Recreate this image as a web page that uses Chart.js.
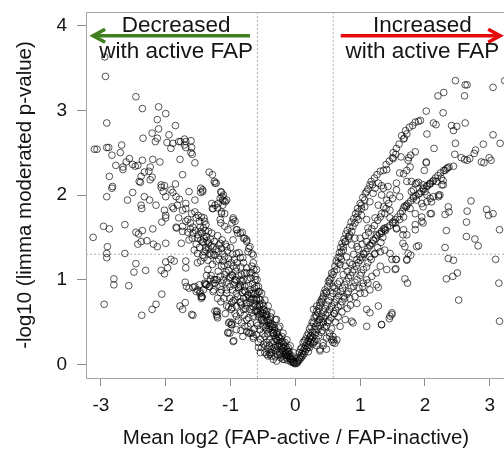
<!DOCTYPE html>
<html><head><meta charset="utf-8">
<script src="https://cdn.jsdelivr.net/npm/chart.js@4/dist/chart.umd.min.js"></script>
<style>
html,body{margin:0;padding:0;background:#fff;overflow:hidden;}
#wrap{width:504px;height:449px;overflow:hidden;position:relative;}
canvas{display:block;}
</style></head><body>
<div id="wrap"><canvas id="c" width="506" height="449"></canvas></div>
<script>
// ---- axis / reference values ----
const xTicks = [-3, -2, -1, 0, 1, 2, 3];
const yTicks = [0, 1, 2, 3, 4];
const foldChangeCutoffs = [-0.585, 0.585];   // log2(1.5)
const pValueCutoff = 1.301;                  // -log10(0.05)
const xLimits = [-3.23, 3.25];
const yLimits = [-0.16, 4.16];
const xTitle = 'Mean log2 (FAP-active / FAP-inactive)';
const yTitle = '-log10 (limma moderated p-value)';

// ---- points [mean log2 ratio, -log10 p] ----
const decreasedScatter = [
[-2.94,3.63],[-2.93,3.40],[-2.46,3.16],[-2.36,3.02],[-2.11,3.04],[-2.00,2.96],[-2.13,2.89],[-2.91,2.85],[-1.85,2.82],[-2.11,2.78],
[-2.21,2.73],[-1.95,2.71],[-2.35,2.67],[-2.13,2.67],[-2.16,2.63],[-1.98,2.62],[-1.89,2.61],[-1.80,2.63],[-1.71,2.66],[-1.69,2.63],
[-1.61,2.64],[-1.77,2.63],[-1.92,2.55],[-1.71,2.59],[-1.69,2.56],[-1.60,2.56],[-1.61,2.50],[-1.59,2.48],[-3.10,2.54],[-3.06,2.54],
[-2.91,2.56],[-2.88,2.56],[-2.68,2.59],[-2.83,2.47],[-2.70,2.50],[-1.78,2.42],[-1.55,2.38],[-2.56,2.43],[-2.61,2.39],[-2.66,2.33],
[-2.66,2.30],[-2.77,2.35],[-2.51,2.36],[-2.43,2.35],[-2.47,2.34],[-2.36,2.41],[-2.20,2.42],[-2.09,2.39],[-2.24,2.33],[-2.26,2.28],
[-2.33,2.27],[-2.87,2.22],[-2.38,2.22],[-2.41,2.16],[-2.39,2.15],[-2.24,2.18],[-2.21,2.21],[-1.74,2.24],[-1.85,2.13],[-2.07,2.12],
[-2.02,2.11],[-1.33,2.27],[-1.28,2.24],[-1.25,2.16],[-1.24,2.14],[-1.46,2.08],[-2.82,2.10],
[-2.83,2.08],[-2.91,1.98],[-2.59,1.94],[-2.51,2.03],[-2.33,1.98],[-2.25,1.94],[-2.38,1.88],[-2.37,1.84],[-2.15,1.88],[-2.07,2.09],
[-2.04,2.04],[-2.00,1.98],[-1.92,2.06],[-1.89,2.03],[-1.84,1.98],[-1.79,1.95],[-1.69,1.90],[-1.64,2.04],[-1.46,2.03],[-1.43,2.06],
[-2.02,1.82],[-2.00,1.76],[-1.90,1.86],[-1.88,1.84],[-1.82,1.88],[-1.74,1.82],[-1.69,1.84],[-1.60,1.78],[-1.55,1.94],[-2.96,1.63],
[-2.87,1.60],[-3.12,1.50],[-2.63,1.65],[-2.46,1.56],[-2.42,1.54],[-2.36,1.58],[-2.20,1.60],[-2.06,1.68],[-2.00,1.73],[-2.43,1.42],
[-2.38,1.45],[-2.29,1.46],[-2.19,1.42],[-2.13,1.39],[-2.00,1.43],[-2.90,1.39],[-2.91,1.31],[-2.91,1.26],[-2.63,1.31],[-1.84,1.62],
[-1.80,1.73],[-1.69,1.69],[-1.74,1.57],[-1.76,1.43],[-1.83,1.61],[-1.74,1.63],[-1.53,1.73],[-1.48,1.69],[-1.41,1.73],[-1.38,1.65],
[-1.46,1.57],[-1.59,1.49],[-1.51,1.49],[-1.41,1.49],[-1.56,1.35],[-1.51,1.31],[-1.43,1.29],[-1.38,1.35],[-1.51,1.20],[-1.69,1.22],
[-2.46,1.19],[-2.49,1.09],[-2.31,1.11],[-2.07,1.11],[-2.02,1.07],[-1.97,1.14],[-2.00,1.21],[-1.92,1.24],[-1.87,1.22],[-2.80,1.01],
[-2.80,0.94],[-2.57,0.93],[-2.95,0.71],[-2.06,0.83],[-2.15,0.71],[-2.21,0.65],[-2.37,0.58],[-1.69,1.14],[-1.70,0.97],[-1.64,0.90],
[-1.58,0.91],[-1.51,0.88],[-1.48,0.94],[-1.44,0.80],[-1.39,0.95],[-1.70,0.73],[-1.74,0.65],[-1.78,0.69],[-1.60,0.59],[-1.58,0.58],
[-1.21,0.63],[-1.20,0.55],[-1.68,0.92],[-1.55,0.92],[-1.47,0.84],[-1.45,0.78],[-1.53,0.86],[-1.47,0.86],[-1.44,0.80]
];
const decreasedArm = [
[-1.22,2.14],[-1.43,2.04],[-1.14,2.03],[-1.11,2.00],[-1.16,1.96],[-1.10,1.93],[-1.12,1.88],[-1.19,1.90],[-1.24,1.88],[-1.27,1.84],
[-1.14,1.80],[-1.09,1.78],[-1.29,1.90],[-1.28,1.84],[-1.20,1.85],[-1.15,2.04],[-1.13,1.98],[-1.12,1.94],[-1.08,1.92],[-1.06,1.94],
[-1.14,1.78],[-1.16,1.71],[-1.45,1.74],[-1.40,1.69],[-1.42,1.61],[-1.34,1.57],[-1.29,1.55],[-1.37,1.51],[-1.43,1.45],[-1.34,1.43],
[-1.27,1.39],[-1.40,1.33],[-1.32,1.31],[-1.24,1.29],[-1.19,1.33],[-1.14,1.37],[-1.16,1.43],[-1.15,1.67],[-1.09,1.63],[-1.04,1.59],
[-0.98,1.67],[-0.96,1.71],[-0.91,1.59],[-0.85,1.55],[-0.80,1.49],[-0.75,1.47],[-0.70,1.39],[-0.73,1.33],[-0.65,1.29],[-0.96,1.47],
[-1.06,1.39],[-1.09,1.27],[-1.11,1.22],[-1.04,1.18],[-0.96,1.16],[-0.91,1.14],[-0.83,1.06],[-0.85,1.00],[-0.93,1.00],[-0.98,1.06],
[-1.01,0.92],[-1.06,0.88],[-1.21,1.00],[-1.27,0.96],[-1.37,0.94],[-1.42,0.88],[-1.45,0.80],[-1.27,0.86],[-1.16,0.92],[-0.78,0.92],
[-0.70,0.88],[-0.73,0.82],[-0.65,0.84],[-0.60,0.78],[-0.55,0.71],[-0.50,0.65],[-0.44,0.59],[-0.39,0.53],[-0.37,0.45],[-0.34,0.37],
[-0.29,0.29],[-0.24,0.22],[-0.19,0.16],[-0.13,0.10],[-0.08,0.06],[-0.03,0.02],[-1.24,0.63],[-1.21,0.57],[-1.03,0.49],[-0.98,0.47],
[-1.01,0.37],[-0.96,0.27],[-0.78,0.45],[-0.70,0.37],[-0.65,0.33],[-0.98,0.67],[-0.91,0.69],[-0.85,0.74],[-0.80,0.78],[-0.47,0.33],
[-0.44,0.26],[-0.42,0.18],[-0.39,0.12],[-0.34,0.06],[-0.29,0.04],[-0.24,0.14],[-0.19,0.06],[-0.57,0.57],[-0.52,0.53],[-0.50,0.45],
[-0.44,0.41],[-0.55,0.41],[-0.60,0.49],[-0.65,0.57],[-0.70,0.65],[-0.75,0.69],[-0.62,0.63],[-0.91,1.31],[-0.85,1.26],[-0.80,1.20],
[-0.75,1.14],[-0.70,1.08],[-0.62,1.00],[-0.57,0.92],[-0.52,0.84],[-0.47,0.76],[-0.42,0.69],[-0.37,0.61],[-0.31,0.53],[-0.26,0.43],
[-0.21,0.33],[-0.16,0.26],[-0.11,0.20],[-0.65,1.20],[-0.67,1.08],[-0.60,1.12],[-0.55,0.86],[-0.29,0.53],[-0.24,0.45],[-0.19,0.37],
[-0.13,0.29],[-0.08,0.22],[-0.03,0.14],[-1.06,0.69],[-1.04,0.37],[-0.98,0.49],[-0.91,0.57],[-0.85,0.61],[-0.80,0.65],[-0.75,0.73],
[-0.73,0.45],[-0.67,0.37],[-0.65,0.31],[-0.57,0.26],[-0.52,0.20],[-0.47,0.14],[-0.42,0.10],[-0.37,0.14],[-0.31,0.22],[-0.34,0.37],
[-0.39,0.45],[-0.44,0.53],[-0.50,0.61],[-0.55,0.69],[-0.60,0.76],[-0.67,0.61],[-0.75,0.53],[-0.83,0.49],[-0.91,0.41],[-1.40,0.96],
[-1.32,0.92],[-1.26,0.88],[-1.24,1.00],[-1.16,1.04],[-1.11,1.00],[-1.14,0.88],[-1.06,0.84],[-1.01,0.78],[-0.98,0.73],[-0.93,0.76],
[-0.91,0.84],[-0.85,0.92],[-0.80,1.00],[-0.75,1.08],[-0.96,1.73],[-0.93,1.69],[-0.90,1.59],[-0.89,1.55],[-0.82,1.56],[-0.78,1.49],
[-0.75,1.45],[-0.72,1.37],[-0.67,1.31],[-0.67,1.16],[-0.64,1.12],[-0.62,1.04],[-0.59,1.00],[-0.60,0.92],[-0.62,0.84],[-0.57,0.86],
[-0.54,0.76],[-0.49,0.69],[-0.44,0.63],[-1.03,0.68],[-0.99,0.65],[-0.96,0.75],[-0.85,0.73],[-0.75,0.39],[-0.72,0.37],[-0.57,0.20],
[-0.54,0.14],[-0.44,0.12],[-0.37,0.10],[-0.40,0.14],[-0.29,0.18],[-0.24,0.12],[-1.01,0.50],[-0.99,0.47],[-1.04,0.38],[-0.95,0.28],
[-1.21,0.62],[-1.21,0.59],[-1.38,0.94],[-1.33,0.92],[-1.26,1.00],[-1.24,0.96],[-1.16,0.85],
[-0.01,0.01],[-0.02,0.02],[-0.03,0.04],[-0.04,0.03],[-0.05,0.06],[-0.06,0.05],[-0.07,0.09],[-0.08,0.07],[-0.09,0.12],[-0.10,0.09],
[-0.11,0.15],[-0.12,0.11],[-0.13,0.18],[-0.14,0.14],[-0.15,0.21],[-0.16,0.16],[-0.18,0.24],[-0.19,0.19],[-0.20,0.27],[-0.21,0.21],
[-0.23,0.30],[-0.24,0.25],[-0.26,0.33],[-0.27,0.28],[-0.29,0.36],[-0.30,0.31],[-0.32,0.40],[-0.33,0.34],[-0.35,0.44],[-0.36,0.38],
[-0.38,0.48],[-0.40,0.42],[-0.42,0.52],[-0.44,0.46],[-0.46,0.56],[-0.48,0.50],[-0.50,0.60],[-0.52,0.55],[-0.54,0.64],[-0.56,0.59],
[-0.58,0.68],[-0.60,0.63],[-0.63,0.72],[-0.65,0.68],[-0.68,0.77],[-0.70,0.73],[-0.73,0.82],[-0.76,0.79],[-0.79,0.87],[-0.82,0.85],
[-0.85,0.94],[-0.88,0.91],[-0.91,0.99],[-0.94,0.97],[-0.97,1.05],[-1.00,1.03],[-1.03,1.11],[-1.07,1.09],[-1.10,1.17],[-1.14,1.16],
[-1.18,1.24],[-1.22,1.22],[-1.26,1.30],[-1.30,1.29],[-1.34,1.37],[-1.38,1.38],[-1.42,1.44],[-1.46,1.47],[-1.50,1.53],[-1.54,1.58],
[-1.58,1.62],[-1.62,1.67],[-1.66,1.71],
[-1.55,1.80],[-1.50,1.76],[-1.47,1.62],[-1.44,1.55],[-1.39,1.58],[-1.36,1.46],[-1.31,1.48],[-1.30,1.40],[-1.25,1.45],[-1.22,1.36],
[-1.20,1.52],[-1.18,1.41],[-1.13,1.47],[-1.12,1.31],[-1.08,1.42],[-1.05,1.34],[-1.03,1.25],[-1.00,1.38],[-0.99,1.20],[-0.97,1.30],
[-0.94,1.24],[-0.92,1.10],[-0.90,1.20],[-0.88,1.05],[-0.87,1.32],[-0.84,1.15],[-0.82,0.98],[-0.81,1.26],[-0.78,1.08],[-0.77,0.86],
[-0.74,1.00],[-0.72,0.93],[-0.71,0.78],[-0.69,1.02],[-0.68,0.84],[-0.66,0.95],[-0.64,0.76],[-0.63,0.90],[-0.61,0.70],[-0.59,0.83],
[-0.58,0.62],[-0.56,0.77],[-0.53,0.60],[-0.51,0.72],[-0.49,0.52],[-0.48,0.64],[-0.46,0.44],[-0.45,0.58],[-0.43,0.36],[-0.41,0.49],
[-0.40,0.30],[-0.38,0.56],[-0.36,0.26],[-0.35,0.47],[-0.33,0.20],[-0.32,0.43],[-0.30,0.16],[-0.28,0.38],[-0.27,0.12],[-0.25,0.32],
[-0.23,0.08],[-0.22,0.27],[-0.20,0.10],[-0.18,0.20],[-0.17,0.06],[-0.15,0.12],[-0.12,0.05],[-0.10,0.15],[-0.07,0.03],[-0.05,0.10],
[-1.35,1.12],[-1.30,1.05],[-1.28,1.18],[-1.19,1.10],[-1.13,0.96],[-1.09,1.06],[-1.06,0.97],[-1.02,1.02],[-0.97,0.88],[-0.95,0.94],
[-0.89,0.80],[-0.87,0.89],[-0.83,0.70],[-0.79,0.58],[-0.77,0.66],[-0.72,0.55],[-0.69,0.48],[-0.63,0.42],[-0.60,0.35],[-0.58,0.46],
[-0.54,0.30],[-0.50,0.36],[-0.49,0.24],[-0.46,0.22],[-0.40,0.22],[-0.36,0.18],[-0.33,0.27],[-0.31,0.09],[-0.27,0.21],[-0.22,0.17],
[-0.17,0.11],[-0.14,0.08],[-1.58,1.55],[-1.62,1.60],[-1.66,1.56],[-1.64,1.47],[-1.53,1.42],[-1.48,1.38],[-1.46,1.22],[-1.41,1.26],
[-1.35,1.23],[-1.37,1.05],[-1.31,1.01],[-1.20,0.78],[-1.15,0.74],[-1.10,0.78],[-1.08,0.60],[-0.93,0.60],[-0.88,0.52],[-0.84,0.40],
[-0.81,0.33]
];
const increasedScatter = [
[2.47,3.35],[2.62,3.30],[2.65,3.30],[2.61,3.17],[3.05,3.27],[3.23,3.35],[2.20,3.17],[2.29,3.21],[2.02,2.99],[2.28,2.97],
[1.81,2.82],[1.90,2.87],[1.93,2.88],[2.13,2.85],[2.17,2.83],[2.41,2.82],[2.49,2.81],[2.44,2.76],[2.62,2.85],[1.72,2.72],
[1.68,2.67],[1.67,2.66],[2.03,2.72],[2.47,2.61],[3.05,2.71],[3.16,2.61],[2.90,2.60],[2.78,2.53],[2.76,2.49],[2.14,2.55],
[1.51,2.50],[1.55,2.48],[1.50,2.44],[1.51,2.43],[1.63,2.45],[1.75,2.44],[1.85,2.51],[1.78,2.47],[1.74,2.41],[2.02,2.39],
[2.02,2.38],[2.46,2.48],[2.56,2.44],[2.61,2.42],[2.65,2.41],[2.69,2.43],[2.87,2.39],[2.91,2.38],[2.99,2.44],[3.02,2.41],
[1.99,2.29],[1.77,2.33],[1.72,2.29],[1.61,2.26],[1.67,2.25],[1.36,2.29],[1.41,2.30],[2.31,2.29],[2.33,2.31],[2.37,2.33],
[2.44,2.34],[2.25,2.20],[2.28,2.17],[2.13,2.17],[2.08,2.13],[2.03,2.11],[1.97,2.08],[1.90,2.15],[1.79,2.16],[1.85,2.13],
[1.19,2.12],[1.33,2.11],[1.43,2.10],[1.56,2.14],
[1.72,2.16],[1.87,2.14],[1.97,2.12],[2.08,2.14],[2.18,2.16],[2.28,2.12],[1.82,2.06],[1.92,2.02],[2.00,2.04],[2.03,2.00],
[2.08,1.96],[2.13,1.98],[2.21,1.98],[1.87,1.94],[1.95,1.90],[2.03,1.92],[1.72,1.88],[1.77,1.84],[1.85,1.78],[1.95,1.74],
[1.97,1.67],[2.08,1.78],[1.67,1.74],[1.61,1.71],[1.54,1.67],[1.56,1.61],[1.67,1.59],[1.72,1.53],[1.85,1.59],[1.69,1.39],
[1.87,1.39],[1.72,1.24],[1.56,1.24],[1.54,1.12],[1.74,1.31],[1.69,1.01],[1.73,0.96],
[2.71,1.93],[2.95,1.83],[3.05,1.78],[2.98,1.76],[2.65,1.81],[2.64,1.68],[2.31,1.77],[2.37,1.80],[2.10,1.78],[2.33,1.58],
[3.15,1.59],[2.64,1.51],[2.77,1.48],[2.82,1.40],[2.31,1.38],[1.90,1.40],[1.66,1.43],[2.36,1.25],[2.44,1.23],[3.09,1.24],
[1.55,1.24],[1.72,1.23],[1.78,1.29],[2.33,1.01],[2.43,1.04],[2.50,1.08],[3.14,0.96],[2.52,0.76],[3.15,0.51],[1.49,0.59],
[1.45,0.54],[1.33,0.47],[1.55,1.13],[2.10,1.92],[1.97,1.86],[1.95,1.69],[1.85,1.65],[1.66,1.53],[1.56,1.60],[2.21,2.00],
[2.26,2.12],[1.79,2.04],[1.82,1.98],[1.61,1.98],[2.23,2.00],[2.36,1.86]
];
const increasedArms = [
[1.28,2.14],[1.15,2.12],[1.23,2.08],[1.36,2.08],[1.10,2.04],[1.20,2.02],[1.33,2.00],[1.41,1.94],[1.46,2.00],[1.56,2.06],
[1.07,1.94],[1.02,1.88],[1.07,1.86],[1.15,1.92],[1.28,1.88],[1.36,1.86],[1.46,1.82],[1.38,1.78],[1.31,1.74],[1.23,1.73],
[1.46,1.73],[1.51,1.67],[1.38,1.59],[1.33,1.55],[1.25,1.53],[1.20,1.47],[1.15,1.41],[1.10,1.45],[1.00,1.49],[0.92,1.49],
[0.84,1.53],[0.89,1.63],[0.97,1.71],[1.02,1.76],[1.10,1.71],[1.12,1.61],[0.95,1.39],[0.87,1.41],[0.82,1.49],[0.77,1.45],
[0.74,1.35],[0.79,1.27],[0.71,1.24],[0.69,1.18],[0.77,1.16],[0.84,1.20],[0.95,1.24],[1.00,1.27],[1.05,1.31],[1.15,1.27],
[1.23,1.31],[1.31,1.33],[1.38,1.35],[1.46,1.31],[1.49,1.24],[1.41,1.12],[1.31,1.16],[1.25,1.08],[1.18,1.04],[1.10,1.00],
[1.05,0.96],[1.25,0.94],[1.28,0.91],[1.15,0.88],[1.07,0.84],[1.00,0.84],[0.92,0.80],[0.84,0.78],[0.74,0.80],[0.64,0.86],
[0.58,0.92],[0.53,0.96],[0.48,0.84],[0.43,0.80],[0.38,0.73],[0.33,0.69],[0.28,0.65],[0.33,0.57],[0.38,0.53],[0.43,0.49],
[0.48,0.45],[0.53,0.37],[0.58,0.33],[0.64,0.29],[0.69,0.45],[0.77,0.53],[0.87,0.51],[0.89,0.49],[1.10,0.65],[1.15,0.61],
[1.28,0.69],[1.10,0.45],[1.33,0.47],[1.46,0.57],[1.49,0.61],[0.23,0.33],[0.28,0.26],[0.33,0.22],[0.38,0.18],[0.43,0.26],
[0.48,0.31],[0.58,0.26],[0.56,0.29],[0.59,0.29],[0.53,0.33],[0.48,0.18],[0.43,0.22],[0.61,0.25],[0.38,0.16],
[0.95,1.74],[0.92,1.67],[0.87,1.57],[0.82,1.51],[0.77,1.45],[0.74,1.39],[0.71,1.33],[0.69,1.27],[0.66,1.20],[0.64,1.12],
[0.58,1.06],[0.53,1.00],[0.48,0.86],[0.41,0.74],[0.35,0.61],[0.28,0.49],[0.20,0.37],[0.12,0.26],[0.06,0.14],[0.97,1.80],
[1.02,1.84],
[1.42,1.62],[1.46,1.64],[1.50,1.68],[1.54,1.71],[1.58,1.74],[1.62,1.78],[1.65,1.81],[1.67,1.85],[1.69,1.87],[1.71,1.86],
[1.74,1.90],[1.78,1.93],[1.82,1.96],[1.86,1.99],[1.90,2.01],[1.94,2.04],[1.98,2.07],[2.03,2.10],[2.07,2.13],[2.12,2.16],
[2.16,2.20],[2.20,2.23],[2.24,2.26],[2.29,2.29],[2.35,2.32],
[0.01,0.01],[0.02,0.03],[0.03,0.02],[0.04,0.05],[0.05,0.04],[0.06,0.08],[0.07,0.06],[0.08,0.10],[0.09,0.08],[0.10,0.13],
[0.11,0.10],[0.12,0.16],[0.13,0.12],[0.14,0.19],[0.15,0.15],[0.16,0.22],[0.17,0.18],[0.18,0.25],[0.19,0.20],[0.20,0.28],
[0.21,0.23],[0.22,0.31],[0.23,0.26],[0.24,0.34],[0.25,0.29],[0.26,0.38],[0.27,0.32],[0.29,0.41],[0.30,0.35],[0.31,0.45],
[0.32,0.38],[0.34,0.49],[0.35,0.42],[0.37,0.53],[0.38,0.46],[0.40,0.57],[0.41,0.50],[0.43,0.62],[0.44,0.54],[0.46,0.66],
[0.47,0.58],[0.49,0.70],[0.50,0.61],[0.52,0.75],[0.53,0.65],[0.55,0.80],[0.56,0.69],[0.58,0.84],[0.60,0.73],[0.61,0.90],
[0.63,0.77],[0.65,0.95],[0.67,0.81],[0.70,0.86],[0.73,0.90],[0.76,0.94],[0.79,0.98],[0.82,1.02],[0.85,1.05],[0.88,1.09],
[0.91,1.12],[0.94,1.16],[0.97,1.20],[1.00,1.23],[1.03,1.26],[1.06,1.30],[1.09,1.33],[1.12,1.37],[1.15,1.40],[1.18,1.43],
[1.21,1.46],[1.24,1.49],[1.27,1.52],[1.30,1.54],[1.33,1.57],[1.36,1.60],[1.38,1.61],[1.39,1.58],
[0.20,0.15],[0.30,0.27],[0.40,0.38],[0.50,0.50],[0.60,0.60],[0.70,0.70],[0.80,0.83],[0.90,0.92],[1.00,1.05],[1.10,1.15],
[0.08,0.18],[0.10,0.20],[0.14,0.28],[0.16,0.30],[0.18,0.34],[0.22,0.42],[0.24,0.45],[0.26,0.50],[0.29,0.55],[0.31,0.58],
[0.33,0.63],[0.36,0.66],[0.38,0.70],[0.40,0.76],[0.42,0.78],[0.44,0.84],[0.46,0.88],[0.50,0.92],[0.51,0.98],[0.55,1.02],
[0.56,1.08],[0.60,1.10],[0.61,1.16],[0.63,1.22],[0.66,1.26],[0.68,1.32],[0.70,1.38],[0.72,1.43],[0.75,1.48],[0.78,1.54],
[0.80,1.58],[0.84,1.62],[0.86,1.68],[0.90,1.72],[0.93,1.78],[0.96,1.84],[1.00,1.90],[1.04,1.97],[1.08,2.02],[1.12,2.07],
[1.17,2.16],[1.22,2.20],[1.26,2.24],[1.31,2.28],[1.40,2.36],[1.45,2.40],[1.56,2.55],[1.60,2.60],[1.64,2.70],[1.70,2.76],
[1.76,2.80],[1.85,2.86],
[0.22,0.20],[0.27,0.24],[0.32,0.30],[0.36,0.34],[0.42,0.40],[0.45,0.44],[0.52,0.52],[0.55,0.55],[0.62,0.64],[0.66,0.68],
[0.72,0.74],[0.76,0.78],[0.82,0.86],[0.86,0.90],[0.92,0.97],[0.95,1.00],[1.02,1.08],[1.05,1.12],[1.12,1.20],[1.17,1.24],
[1.22,1.30],[1.27,1.38],[1.32,1.44],[1.35,1.50],
[0.56,0.42],[0.62,0.50],[0.66,0.56],[0.72,0.62],[0.80,0.66],[0.85,0.70],[0.95,0.72],[0.98,0.90],[1.04,0.92],[1.12,0.96],
[0.60,0.60],[0.68,0.98],[0.74,1.06],[0.80,1.10],[0.88,1.18],[0.90,1.30],[0.97,1.36],[1.03,1.42],[1.08,1.52],[1.13,1.56],
[1.18,1.60],[1.22,1.64],[1.27,1.70],[1.33,1.78],[1.40,1.84],[1.44,1.90],[1.50,1.96]
];

// ---- annotation layout (data units) ----
const annotationLayout = [
  {lines: ['Decreased', 'with active FAP'], x: -1.84, y: [3.92, 3.62],
   arrow: {from: -0.70, to: -3.12, y: 3.88, color: '#3f7f1f'}},
  {lines: ['Increased', 'with active FAP'], x: 1.96, y: [3.92, 3.62],
   arrow: {from: 0.70, to: 3.16, y: 3.88, color: '#e30b0b'}}
];

const FONT = "'Liberation Sans', Arial, Helvetica, sans-serif";
const toXY = arr => arr.map(p => ({x: p[0], y: p[1]}));
const pointStyle = {
  pointStyle: 'circle', pointRadius: 3.35, pointBorderWidth: 0.9,
  pointBackgroundColor: 'rgba(0,0,0,0)', pointBorderColor: 'rgba(0,0,0,0.74)',
  borderColor: 'rgba(0,0,0,0.74)', backgroundColor: 'rgba(0,0,0,0)',
  showLine: false, order: 0
};
const dashStyle = {type: 'line', showLine: true, pointRadius: 0, borderColor: '#b0b0b0',
  borderWidth: 1, borderDash: [2, 2], fill: false, order: 5};

const framePlugin = {
  id: 'frame',
  beforeDatasetsDraw(chart) {
    const {ctx, chartArea: a} = chart;
    ctx.save();
    ctx.strokeStyle = '#a3a3a3';
    ctx.lineWidth = 1;
    ctx.beginPath();
    ctx.moveTo(a.right, a.top + 0.5);
    ctx.lineTo(a.left + 0.5, a.top + 0.5);
    ctx.lineTo(a.left + 0.5, a.bottom + 0.5);
    ctx.lineTo(a.right, a.bottom + 0.5);
    ctx.stroke();
    ctx.restore();
  }
};

const annotationPlugin = {
  id: 'annot',
  afterDatasetsDraw(chart) {
    const {ctx} = chart;
    const xs = chart.scales.x, ys = chart.scales.y;
    ctx.save();
    annotationLayout.forEach(a => {
      ctx.font = '22.5px ' + FONT;
      ctx.fillStyle = '#141414';
      ctx.textAlign = 'center';
      ctx.textBaseline = 'alphabetic';
      a.lines.forEach((t, i) => ctx.fillText(t, xs.getPixelForValue(a.x), ys.getPixelForValue(a.y[i])));
      const x0 = xs.getPixelForValue(a.arrow.from), x1 = xs.getPixelForValue(a.arrow.to);
      const y = ys.getPixelForValue(a.arrow.y);
      const dir = Math.sign(x1 - x0);
      ctx.strokeStyle = a.arrow.color;
      ctx.lineWidth = 3.6;
      ctx.lineCap = 'butt';
      ctx.beginPath();
      ctx.moveTo(x0, y); ctx.lineTo(x1 - dir * 2, y);
      ctx.stroke();
      ctx.beginPath();
      ctx.lineJoin = 'miter';
      ctx.moveTo(x1 - dir * 12, y - 6.5);
      ctx.lineTo(x1, y);
      ctx.lineTo(x1 - dir * 12, y + 6.5);
      ctx.stroke();
    });
    ctx.restore();
  }
};

new Chart(document.getElementById('c'), {
  type: 'scatter',
  data: {
    datasets: [
      Object.assign({label: 'decreased', data: toXY(decreasedScatter.concat(decreasedArm))}, pointStyle),
      Object.assign({label: 'increased', data: toXY(increasedScatter.concat(increasedArms))}, pointStyle),
      Object.assign({label: 'fc-', data: [{x: foldChangeCutoffs[0], y: yLimits[0]}, {x: foldChangeCutoffs[0], y: yLimits[1]}]}, dashStyle),
      Object.assign({label: 'fc+', data: [{x: foldChangeCutoffs[1], y: yLimits[0]}, {x: foldChangeCutoffs[1], y: yLimits[1]}]}, dashStyle),
      Object.assign({label: 'p', data: [{x: xLimits[0], y: pValueCutoff}, {x: xLimits[1], y: pValueCutoff}]}, dashStyle)
    ]
  },
  options: {
    responsive: false, animation: false, devicePixelRatio: 1,
    layout: {autoPadding: false, padding: {top: 12, right: 0, left: 0, bottom: 0}},
    plugins: {legend: {display: false}, tooltip: {enabled: false}},
    scales: {
      x: {
        type: 'linear', min: xLimits[0], max: xLimits[1],
        afterBuildTicks: s => { s.ticks = xTicks.map(v => ({value: v})); },
        afterFit: s => { s.height = 71; s.paddingLeft = 0; s.paddingRight = 0; },
        border: {display: false},
        grid: {display: true, drawOnChartArea: false, drawTicks: true, tickLength: 8, tickColor: '#8c8c8c', tickWidth: 1},
        ticks: {color: '#141414', font: {family: FONT, size: 19}, padding: 8, maxRotation: 0},
        title: {display: true, text: xTitle, color: '#141414', font: {family: FONT, size: 20.5, lineHeight: 1}, padding: {top: 0, bottom: 0}}
      },
      y: {
        type: 'linear', min: yLimits[0], max: yLimits[1],
        afterBuildTicks: s => { s.ticks = yTicks.map(v => ({value: v})); },
        afterFit: s => { s.width = 86; s.paddingTop = 0; s.paddingBottom = 0; },
        border: {display: false},
        grid: {display: true, drawOnChartArea: false, drawTicks: true, tickLength: 9, tickColor: '#8c8c8c', tickWidth: 1},
        ticks: {color: '#141414', font: {family: FONT, size: 19}, padding: 10},
        title: {display: true, text: yTitle, color: '#141414', font: {family: FONT, size: 20.5, lineHeight: 1.2}, padding: {top: 13, bottom: 0}}
      }
    }
  },
  plugins: [framePlugin, annotationPlugin]
});
</script>
</body></html>
